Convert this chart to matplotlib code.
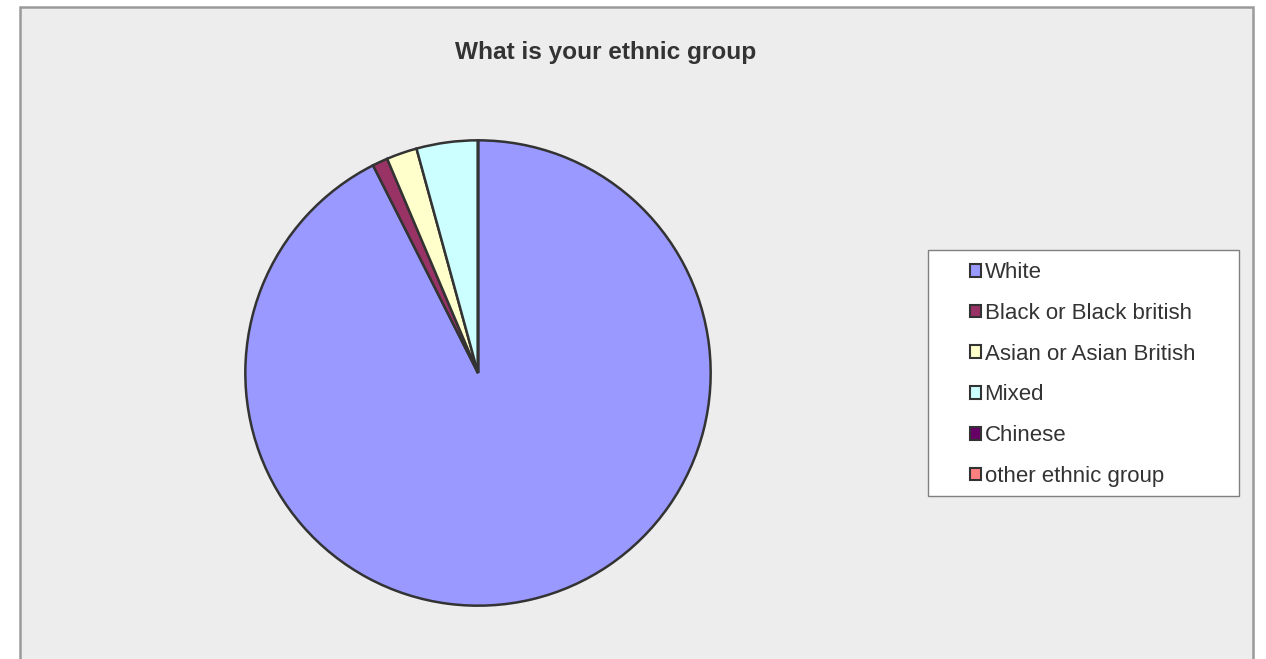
import matplotlib
matplotlib.use("Agg")
import matplotlib.pyplot as plt
from matplotlib.patches import Rectangle, Patch

categories = ["White", "Black or Black british", "Asian or Asian British",
              "Mixed", "Chinese", "other ethnic group"]
counts = [87, 1, 2, 4, 0, 0]
colors = ["#9999FF", "#993366", "#FFFFCC", "#CCFFFF", "#660066", "#FF8080"]
title = "What is your ethnic group"

W, H = 1266, 659
DPI = 100
fig = plt.figure(figsize=(W / DPI, H / DPI), dpi=DPI)
fig.patch.set_facecolor("white")

# chart area panel (open at the bottom edge)
fig.patches.append(Rectangle((20 / W, -0.05), (1253 - 20) / W, 1 - 7 / H + 0.05,
                             transform=fig.transFigure, facecolor="#EDEDED",
                             edgecolor="#9A9A9A", linewidth=1.8, zorder=-2))

fig.text(606 / W, 1 - 53 / H, title, ha="center", va="center",
         fontsize=17.6, fontweight="bold", color="#333333",
         family="Liberation Sans")

# pie
cx, cy, r = 478, 373, 235
ax = fig.add_axes([(cx - r) / W, (H - cy - r) / H, 2 * r / W, 2 * r / H])
ax.pie(counts, colors=colors, startangle=90, counterclock=False, radius=1,
       wedgeprops=dict(edgecolor="#333333", linewidth=1.8))
ax.set_xlim(-1.01, 1.01)
ax.set_ylim(-1.01, 1.01)
ax.set_axis_off()

# legend box
fig.patches.append(Rectangle((928 / W, 1 - 496 / H), (1239 - 928) / W, (496 - 250) / H,
                             transform=fig.transFigure, facecolor="white",
                             edgecolor="#808080", linewidth=1.0, zorder=-1))
handles = [Patch(facecolor=c, edgecolor="#333333", linewidth=1.5) for c in colors]
leg = fig.legend(handles, categories, loc="upper left",
                 bbox_to_anchor=(959 / W, 1 - 251 / H), frameon=False,
                 handlelength=0.5, handleheight=0.5,
                 handletextpad=0.15, labelspacing=0.89, borderpad=0,
                 prop={"family": "Liberation Sans", "size": 16})
for t in leg.get_texts():
    t.set_color("#333333")
leg.set_zorder(2)

fig.savefig("out.png", dpi=DPI)
